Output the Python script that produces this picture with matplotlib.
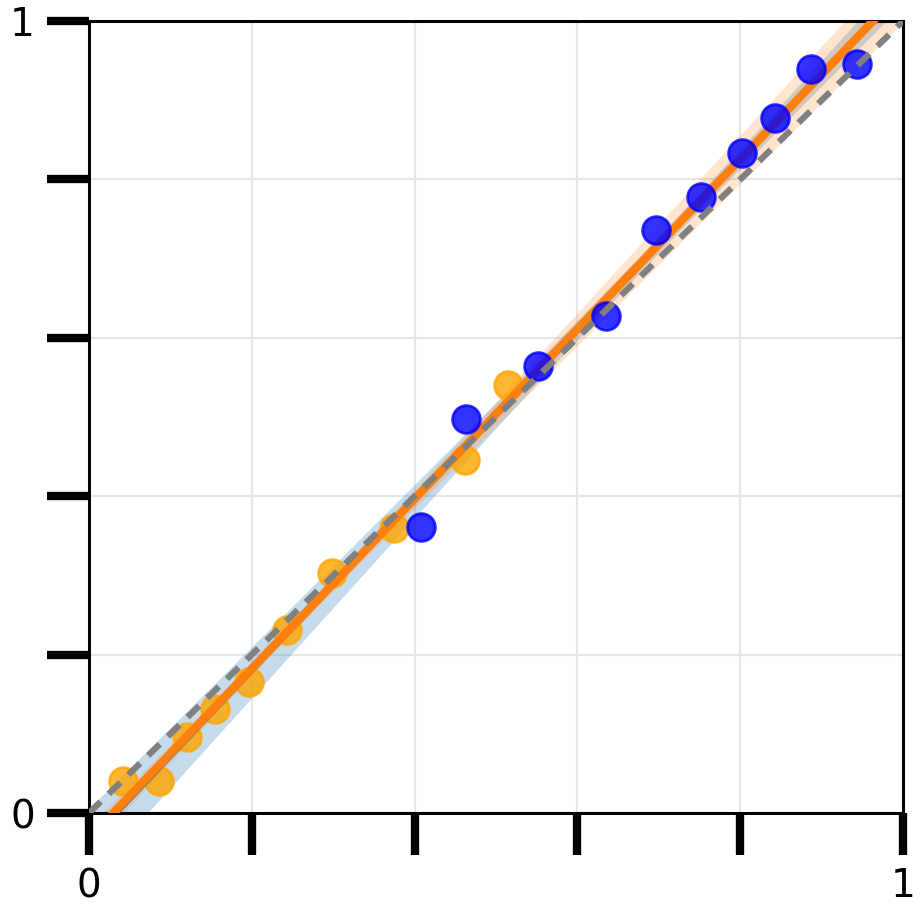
import numpy as np
import matplotlib
matplotlib.use("Agg")
import matplotlib.pyplot as plt

# orange group (lower values)
orange_x = [0.042, 0.086, 0.120, 0.155, 0.197, 0.243, 0.298, 0.375, 0.462, 0.515]
orange_y = [0.040, 0.040, 0.096, 0.131, 0.165, 0.231, 0.303, 0.360, 0.446, 0.540]

# blue group (upper values)
blue_x = [0.4075, 0.463, 0.552, 0.635, 0.697, 0.752, 0.802, 0.843, 0.887, 0.944]
blue_y = [0.3615, 0.4975, 0.565, 0.628, 0.736, 0.778, 0.834, 0.878, 0.939, 0.946]

ticks = [0, 0.2, 0.4, 0.6, 0.8, 1.0]
tick_labels = ["0", "", "", "", "", "1"]


def fit_line(x, y, grid, scale, t=2.306):
    # least squares line with a band around the mean prediction
    x = np.asarray(x)
    y = np.asarray(y)
    slope, intercept = np.polyfit(x, y, 1)
    resid = y - (slope * x + intercept)
    n = len(x)
    s = np.sqrt(np.sum(resid ** 2) / (n - 2))
    sxx = np.sum((x - x.mean()) ** 2)
    yhat = slope * grid + intercept
    half = scale * t * s * np.sqrt(1.0 / n + (grid - x.mean()) ** 2 / sxx)
    return yhat, yhat - half, yhat + half


fig = plt.figure(figsize=(9.21, 9.16), dpi=100)
ax = fig.add_axes([0.0966, 0.1124, 0.8839, 0.8646])

grid = np.linspace(0, 1, 200)

ax.scatter(orange_x, orange_y, s=400, color="orange", alpha=0.8,
           linewidths=2, zorder=2)

b_hat, b_lo, b_hi = fit_line(blue_x, blue_y, grid, 0.55)
ax.fill_between(grid, b_lo, b_hi, color="#1f77b4", alpha=0.25, lw=0, zorder=1)
ax.plot(grid, b_hat, color="#1f77b4", lw=2.4, zorder=3)

o_hat, o_lo, o_hi = fit_line(orange_x, orange_y, grid, 0.65)
ax.fill_between(grid, o_lo, o_hi, color="#ff7f0e", alpha=0.2, lw=0, zorder=1)
ax.plot(grid, o_hat, color="#ff7f0e", lw=6, zorder=3)

ax.scatter(blue_x, blue_y, s=400, color="blue", alpha=0.8,
           linewidths=2, zorder=4)

ax.plot([0, 1], [0, 1], color="gray", lw=4.5, dashes=(2.6, 1.8), zorder=5)

ax.set_xlim(0, 1)
ax.set_ylim(0, 1)
ax.set_xticks(ticks)
ax.set_yticks(ticks)
ax.set_xticklabels(tick_labels)
ax.set_yticklabels(tick_labels)
ax.tick_params(direction="out", length=30, width=6, labelsize=28, pad=9)
ax.grid(True, color="#e6e6e6", lw=1.5)
ax.set_axisbelow(True)
for sp in ax.spines.values():
    sp.set_linewidth(2.2)

fig.savefig("out.png", dpi=100)
